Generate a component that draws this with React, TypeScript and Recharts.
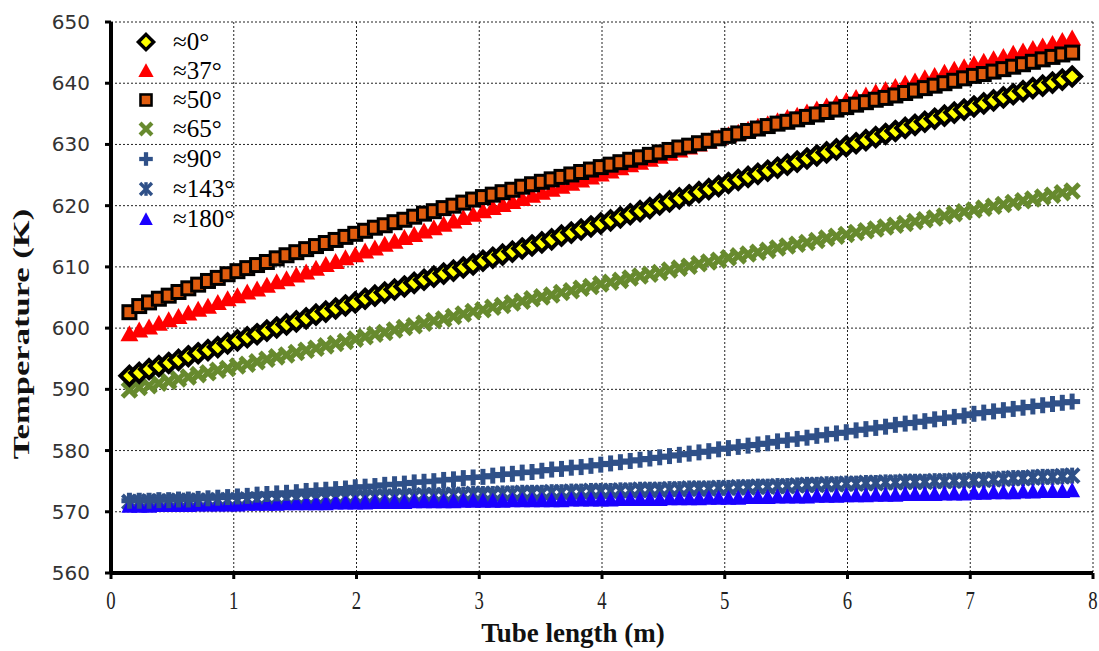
import { ScatterChart, Scatter, XAxis, YAxis, CartesianGrid } from 'recharts';

// tube positions (m), one per marker
const tubeLength = [
  0.15, 0.23, 0.31, 0.39, 0.47, 0.55, 0.63, 0.71, 0.79, 0.87,
  0.95, 1.03, 1.11, 1.19, 1.27, 1.35, 1.43, 1.51, 1.59, 1.67,
  1.75, 1.83, 1.91, 1.99, 2.07, 2.15, 2.23, 2.31, 2.39, 2.47,
  2.55, 2.63, 2.71, 2.79, 2.87, 2.95, 3.03, 3.11, 3.19, 3.27,
  3.35, 3.43, 3.51, 3.59, 3.67, 3.75, 3.83, 3.91, 3.99, 4.07,
  4.15, 4.23, 4.31, 4.39, 4.47, 4.55, 4.63, 4.71, 4.79, 4.87,
  4.95, 5.03, 5.11, 5.19, 5.27, 5.35, 5.43, 5.51, 5.59, 5.67,
  5.75, 5.83, 5.91, 5.99, 6.07, 6.15, 6.23, 6.31, 6.39, 6.47,
  6.55, 6.63, 6.71, 6.79, 6.87, 6.95, 7.03, 7.11, 7.19, 7.27,
  7.35, 7.43, 7.51, 7.59, 7.67, 7.75, 7.83,
];

// temperatures (K) per angle
const temp0 = [
  592.2, 592.7, 593.3, 593.8, 594.3, 594.8, 595.4, 595.9, 596.4, 596.9,
  597.5, 598.0, 598.5, 599.0, 599.6, 600.1, 600.6, 601.1, 601.6, 602.2,
  602.7, 603.2, 603.7, 604.2, 604.8, 605.3, 605.8, 606.3, 606.8, 607.4,
  607.9, 608.4, 608.9, 609.4, 609.9, 610.4, 611.0, 611.5, 612.0, 612.5,
  613.0, 613.5, 614.0, 614.5, 615.1, 615.6, 616.1, 616.6, 617.1, 617.6,
  618.1, 618.6, 619.1, 619.6, 620.2, 620.7, 621.2, 621.7, 622.2, 622.7,
  623.2, 623.7, 624.2, 624.7, 625.2, 625.7, 626.2, 626.7, 627.2, 627.7,
  628.2, 628.7, 629.2, 629.7, 630.2, 630.7, 631.2, 631.7, 632.2, 632.7,
  633.2, 633.7, 634.2, 634.7, 635.2, 635.7, 636.2, 636.7, 637.2, 637.7,
  638.2, 638.7, 639.2, 639.6, 640.1, 640.6, 641.1,
];
const temp37 = [
  599.0, 599.6, 600.1, 600.7, 601.3, 601.8, 602.4, 603.0, 603.5, 604.1,
  604.7, 605.2, 605.8, 606.3, 606.9, 607.5, 608.0, 608.6, 609.1, 609.7,
  610.3, 610.8, 611.4, 611.9, 612.5, 613.0, 613.6, 614.1, 614.7, 615.2,
  615.8, 616.3, 616.9, 617.4, 618.0, 618.5, 619.1, 619.6, 620.1, 620.6,
  621.1, 621.6, 622.1, 622.6, 623.1, 623.6, 624.1, 624.6, 625.1, 625.6,
  626.1, 626.6, 627.0, 627.5, 628.0, 628.5, 629.0, 629.5, 630.0, 630.5,
  631.0, 631.5, 631.9, 632.4, 632.9, 633.3, 633.8, 634.3, 634.7, 635.2,
  635.7, 636.2, 636.6, 637.1, 637.6, 638.0, 638.5, 638.9, 639.4, 639.9,
  640.3, 640.8, 641.2, 641.7, 642.2, 642.6, 643.1, 643.5, 643.9, 644.3,
  644.8, 645.2, 645.6, 646.0, 646.4, 646.9, 647.3,
];
const temp50 = [
  602.6, 603.6, 604.2, 604.8, 605.3, 605.9, 606.5, 607.1, 607.7, 608.2,
  608.8, 609.3, 609.8, 610.3, 610.8, 611.4, 611.9, 612.4, 612.9, 613.4,
  613.9, 614.4, 614.9, 615.4, 615.9, 616.4, 616.8, 617.3, 617.7, 618.2,
  618.7, 619.1, 619.6, 620.0, 620.5, 621.0, 621.4, 621.8, 622.2, 622.6,
  623.1, 623.5, 623.9, 624.3, 624.7, 625.1, 625.5, 625.9, 626.3, 626.7,
  627.1, 627.5, 627.9, 628.3, 628.7, 629.1, 629.5, 629.8, 630.2, 630.6,
  631.0, 631.4, 631.8, 632.2, 632.6, 633.0, 633.4, 633.7, 634.1, 634.5,
  634.9, 635.3, 635.7, 636.1, 636.5, 636.9, 637.3, 637.6, 638.0, 638.4,
  638.8, 639.2, 639.6, 640.0, 640.4, 640.8, 641.2, 641.5, 641.9, 642.3,
  642.7, 643.1, 643.5, 643.9, 644.3, 644.7, 645.0,
];
const temp65 = [
  589.9, 590.3, 590.6, 591.0, 591.3, 591.7, 592.0, 592.4, 592.7, 593.1,
  593.4, 593.8, 594.1, 594.5, 594.9, 595.3, 595.6, 596.0, 596.4, 596.7,
  597.1, 597.5, 597.8, 598.2, 598.6, 599.0, 599.3, 599.7, 600.1, 600.4,
  600.8, 601.2, 601.5, 601.9, 602.3, 602.7, 603.0, 603.4, 603.7, 604.1,
  604.4, 604.8, 605.1, 605.4, 605.8, 606.1, 606.5, 606.8, 607.2, 607.5,
  607.8, 608.2, 608.5, 608.8, 609.1, 609.5, 609.8, 610.1, 610.5, 610.8,
  611.1, 611.5, 611.8, 612.1, 612.4, 612.7, 613.1, 613.4, 613.7, 614.0,
  614.3, 614.7, 615.0, 615.3, 615.6, 615.9, 616.2, 616.5, 616.8, 617.1,
  617.4, 617.7, 618.0, 618.3, 618.7, 619.0, 619.3, 619.6, 619.9, 620.2,
  620.5, 620.8, 621.1, 621.4, 621.7, 622.1, 622.4,
];
const temp90 = [
  571.8, 571.8, 571.8, 571.9, 571.9, 572.0, 572.0, 572.1, 572.2, 572.3,
  572.4, 572.5, 572.6, 572.8, 572.9, 573.0, 573.1, 573.2, 573.4, 573.5,
  573.6, 573.7, 573.8, 574.0, 574.1, 574.2, 574.4, 574.5, 574.6, 574.8,
  574.9, 575.0, 575.2, 575.3, 575.5, 575.6, 575.7, 575.9, 576.1, 576.2,
  576.4, 576.5, 576.7, 576.9, 577.0, 577.2, 577.3, 577.5, 577.7, 577.9,
  578.1, 578.3, 578.5, 578.7, 578.9, 579.1, 579.3, 579.5, 579.7, 579.9,
  580.2, 580.4, 580.6, 580.8, 581.0, 581.2, 581.5, 581.7, 581.9, 582.1,
  582.4, 582.6, 582.8, 583.0, 583.3, 583.5, 583.7, 583.9, 584.2, 584.4,
  584.6, 584.8, 585.1, 585.3, 585.5, 585.7, 586.0, 586.2, 586.4, 586.6,
  586.8, 587.0, 587.2, 587.4, 587.6, 587.8, 588.0,
];
const temp143 = [
  571.6, 571.6, 571.7, 571.7, 571.7, 571.8, 571.8, 571.8, 571.8, 571.9,
  571.9, 571.9, 572.0, 572.0, 572.1, 572.1, 572.1, 572.2, 572.2, 572.2,
  572.3, 572.3, 572.4, 572.4, 572.4, 572.5, 572.5, 572.5, 572.6, 572.6,
  572.7, 572.7, 572.7, 572.8, 572.8, 572.9, 572.9, 572.9, 573.0, 573.0,
  573.1, 573.1, 573.1, 573.2, 573.2, 573.3, 573.3, 573.4, 573.4, 573.4,
  573.5, 573.5, 573.6, 573.6, 573.6, 573.7, 573.7, 573.8, 573.8, 573.8,
  573.9, 573.9, 574.0, 574.0, 574.1, 574.1, 574.2, 574.2, 574.3, 574.4,
  574.4, 574.5, 574.5, 574.6, 574.6, 574.7, 574.7, 574.8, 574.8, 574.9,
  574.9, 574.9, 575.0, 575.0, 575.1, 575.1, 575.2, 575.2, 575.3, 575.4,
  575.5, 575.5, 575.6, 575.7, 575.7, 575.8, 575.9,
];
const temp180 = [
  571.0, 571.0, 571.0, 571.1, 571.1, 571.1, 571.1, 571.2, 571.2, 571.2,
  571.2, 571.2, 571.3, 571.3, 571.3, 571.3, 571.4, 571.4, 571.4, 571.4,
  571.4, 571.5, 571.5, 571.5, 571.5, 571.6, 571.6, 571.6, 571.6, 571.7,
  571.7, 571.7, 571.7, 571.7, 571.8, 571.8, 571.8, 571.8, 571.8, 571.9,
  571.9, 571.9, 571.9, 571.9, 571.9, 572.0, 572.0, 572.0, 572.0, 572.0,
  572.1, 572.1, 572.1, 572.1, 572.1, 572.2, 572.2, 572.2, 572.2, 572.3,
  572.3, 572.3, 572.3, 572.4, 572.4, 572.4, 572.5, 572.5, 572.5, 572.5,
  572.6, 572.6, 572.6, 572.7, 572.7, 572.7, 572.8, 572.8, 572.8, 572.9,
  572.9, 572.9, 572.9, 573.0, 573.0, 573.0, 573.1, 573.1, 573.2, 573.2,
  573.2, 573.3, 573.3, 573.4, 573.4, 573.4, 573.5,
];

const xTicks = [0, 1, 2, 3, 4, 5, 6, 7, 8];
const yTicks = [560, 570, 580, 590, 600, 610, 620, 630, 640, 650];

const SERIF = '"Liberation Serif", "Times New Roman", serif';
const BLUE_DARK = '#2f5088';

// marker shapes
const Diamond = ({ cx, cy }: any) => (
  <polygon
    points={`${cx},${cy - 9} ${cx + 9},${cy} ${cx},${cy + 9} ${cx - 9},${cy}`}
    fill="#ffff00" stroke="#000" strokeWidth={4}
  />
);
const RedTri = ({ cx, cy }: any) => (
  <polygon points={`${cx},${cy - 9} ${cx + 9},${cy + 7} ${cx - 9},${cy + 7}`} fill="#ff0000" />
);
const Square = ({ cx, cy }: any) => (
  <rect x={cx - 6.5} y={cy - 6.5} width={13} height={13} fill="#e05c0e" stroke="#000" strokeWidth={3} />
);
const Cross = ({ cx, cy }: any) => (
  <g stroke="#678a2e" strokeWidth={5}>
    <line x1={cx - 7} y1={cy - 7} x2={cx + 7} y2={cy + 7} />
    <line x1={cx - 7} y1={cy + 7} x2={cx + 7} y2={cy - 7} />
  </g>
);
const Plus = ({ cx, cy }: any) => (
  <g stroke={BLUE_DARK} strokeWidth={5}>
    <line x1={cx - 8} y1={cy} x2={cx + 8} y2={cy} />
    <line x1={cx} y1={cy - 8} x2={cx} y2={cy + 8} />
  </g>
);
const Star = ({ cx, cy }: any) => (
  <g stroke={BLUE_DARK} strokeWidth={4}>
    <line x1={cx - 7} y1={cy - 7} x2={cx + 7} y2={cy + 7} />
    <line x1={cx - 7} y1={cy + 7} x2={cx + 7} y2={cy - 7} />
    <line x1={cx} y1={cy - 8} x2={cx} y2={cy + 8} />
  </g>
);
const BlueTri = ({ cx, cy }: any) => (
  <polygon points={`${cx},${cy - 8} ${cx + 8},${cy + 7} ${cx - 8},${cy + 7}`} fill="#1a00ff" />
);

const series = [
  { name: '≈0°', values: temp0, Shape: Diamond },
  { name: '≈37°', values: temp37, Shape: RedTri },
  { name: '≈50°', values: temp50, Shape: Square },
  { name: '≈65°', values: temp65, Shape: Cross },
  { name: '≈90°', values: temp90, Shape: Plus },
  { name: '≈143°', values: temp143, Shape: Star },
  { name: '≈180°', values: temp180, Shape: BlueTri },
];

// paint order (last on top)
const drawOrder = ['≈37°', '≈50°', '≈65°', '≈0°', '≈143°', '≈180°', '≈90°'];

const XTick = ({ x, y, payload }: any) => (
  <g transform={`translate(${x},${y + 28})`}>
    <text transform="scale(0.72,1)" textAnchor="middle" fontFamily={SERIF} fontSize={26} fill="#222">
      {payload.value}
    </text>
  </g>
);

const YTick = ({ x, y, payload }: any) => (
  <text x={x - 13} y={y + 7} textAnchor="end" fontFamily='"DejaVu Sans", Verdana, sans-serif' fontSize={20} fill="#333">
    {payload.value}
  </text>
);

function LegendBox() {
  const rows = [42, 71, 100, 129, 159, 189, 219];
  return (
    <svg width={150} height={240} style={{ position: 'absolute', left: 120, top: 0, pointerEvents: 'none' }}>
      {series.map((s, i) => (
        <g key={s.name}>
          <g transform={`translate(26,${rows[i]}) scale(0.85)`}>
            <s.Shape cx={0} cy={0} />
          </g>
          <text x={53} y={rows[i] + 8} fontFamily={SERIF} fontSize={25} fill="#000">{s.name}</text>
        </g>
      ))}
    </svg>
  );
}

export default function App() {
  return (
    <div style={{ position: 'absolute', left: 0, top: 0, width: 1099, height: 651, background: '#fff' }}>
      <ScatterChart width={1099} height={651} margin={{ top: 22, right: 6, bottom: 0, left: 0 }}>
        <CartesianGrid stroke="#222" strokeDasharray="2 2" strokeWidth={1} />
        <XAxis
          type="number" dataKey="x" domain={[0, 8]} ticks={xTicks} height={78}
          axisLine={{ stroke: '#000', strokeWidth: 4 }} tickLine={{ stroke: '#000', strokeWidth: 3 }} tickSize={6}
          tick={<XTick />} interval={0}
        />
        <YAxis
          type="number" dataKey="y" domain={[560, 650]} ticks={yTicks} width={111}
          axisLine={{ stroke: '#000', strokeWidth: 4 }} tickLine={{ stroke: '#000', strokeWidth: 3 }} tickSize={6}
          tick={<YTick />} interval={0}
        />
        {drawOrder.map((n) => {
          const s = series.find((q) => q.name === n)!;
          const pts = tubeLength.map((x, i) => ({ x, y: s.values[i] }));
          return <Scatter key={n} name={n} data={pts} shape={<s.Shape />} isAnimationActive={false} />;
        })}
        <text x={573} y={642} textAnchor="middle" fontFamily={SERIF} fontWeight="bold" fontSize={27} fill="#111">
          Tube length (m)
        </text>
        <text
          x={0} y={0} transform="translate(29,334) rotate(-90) scale(1.44,1)" textAnchor="middle"
          fontFamily={SERIF} fontWeight="bold" fontSize={24} fill="#111"
        >
          Temperature (K)
        </text>
      </ScatterChart>
      <LegendBox />
    </div>
  );
}
